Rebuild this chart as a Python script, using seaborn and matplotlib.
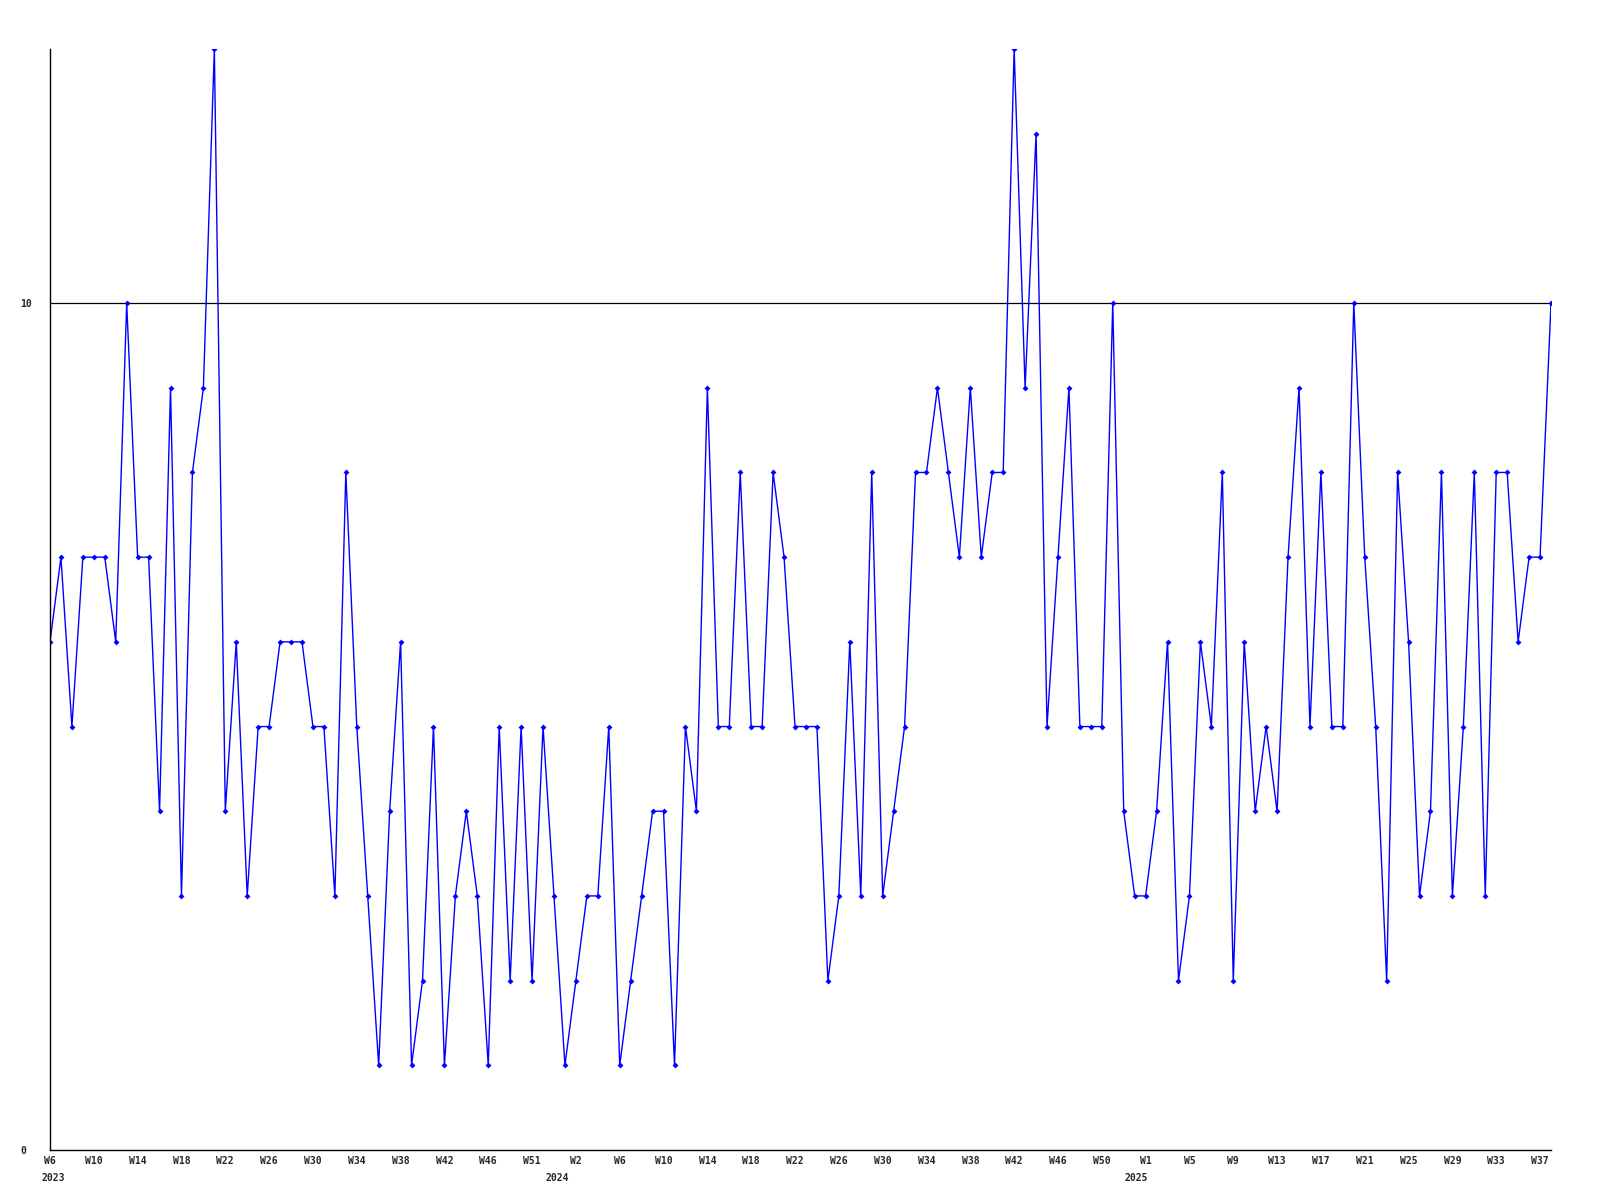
import numpy as np
import pandas as pd
import seaborn as sns
import matplotlib.pyplot as plt

# weekly values, W6 2023 .. W38 2025
values = [6, 7, 5, 7, 7, 7, 6, 10, 7, 7, 4, 9, 3, 8, 9, 13, 4, 6, 3, 5,
          5, 6, 6, 6, 5, 5, 3, 8, 5, 3, 1, 4, 6, 1, 2, 5, 1, 3, 4, 3,
          1, 5, 2, 5, 2, 5, 3, 1, 2, 3, 3, 5, 1, 2, 3, 4, 4, 1, 5, 4,
          9, 5, 5, 8, 5, 5, 8, 7, 5, 5, 5, 2, 3, 6, 3, 8, 3, 4, 5, 8,
          8, 9, 8, 7, 9, 7, 8, 8, 13, 9, 12, 5, 7, 9, 5, 5, 5, 10, 4, 3,
          3, 4, 6, 2, 3, 6, 5, 8, 2, 6, 4, 5, 4, 7, 9, 5, 8, 5, 5, 10,
          7, 5, 2, 8, 6, 3, 4, 8, 3, 5, 8, 3, 8, 8, 6, 7, 7, 10]

week_labels = ["W6", "W10", "W14", "W18", "W22", "W26", "W30", "W34", "W38",
               "W42", "W46", "W51",
               "W2", "W6", "W10", "W14", "W18", "W22", "W26", "W30", "W34",
               "W38", "W42", "W46", "W50",
               "W1", "W5", "W9", "W13", "W17", "W21", "W25", "W29", "W33", "W37"]
label_every = 4

years = ["2023", "2024", "2025"]
year_pos = [0.3, 46.3, 99.1]

df = pd.DataFrame({"week": np.arange(len(values)), "value": values})

sns.set_style("white")
plt.rcParams['font.family'] = ['DejaVu Sans Mono']

fig = plt.figure(figsize=(16, 12), dpi=100)
ax = fig.add_axes([50 / 1600, 1 - 1150 / 1200, 1501 / 1600, 1101 / 1200])

sns.lineplot(data=df, x="week", y="value", ax=ax, color="#0000ff",
             linewidth=1, marker="D", markersize=3, markeredgewidth=0,
             sort=False, clip_on=True)

ax.set_xlim(0, len(values) - 1)
ax.set_ylim(0, 13)

# single reference line at 10
ax.axhline(10, color="black", linewidth=0.9, zorder=0)

ax.set_xticks(np.arange(0, len(values), label_every))
ax.set_xticklabels(week_labels, fontsize=7, fontweight="bold")
ax.set_yticks([0, 10])
ax.set_yticklabels(["0", "10"], fontsize=7, fontweight="bold")
for t in ax.get_yticklabels():
    t.set_horizontalalignment("left")
ax.tick_params(axis="x", length=0, pad=4)
ax.tick_params(axis="y", length=0, pad=21.5)

for yr, xp in zip(years, year_pos):
    ax.text(xp, -0.021, yr, transform=ax.get_xaxis_transform(),
            ha="center", va="top", fontsize=7, fontweight="bold")

ax.set_xlabel("")
ax.set_ylabel("")
for side in ["top", "right"]:
    ax.spines[side].set_visible(False)
for side in ["left", "bottom"]:
    ax.spines[side].set_color("black")
    ax.spines[side].set_linewidth(1)

fig.savefig("out.png", dpi=100)
